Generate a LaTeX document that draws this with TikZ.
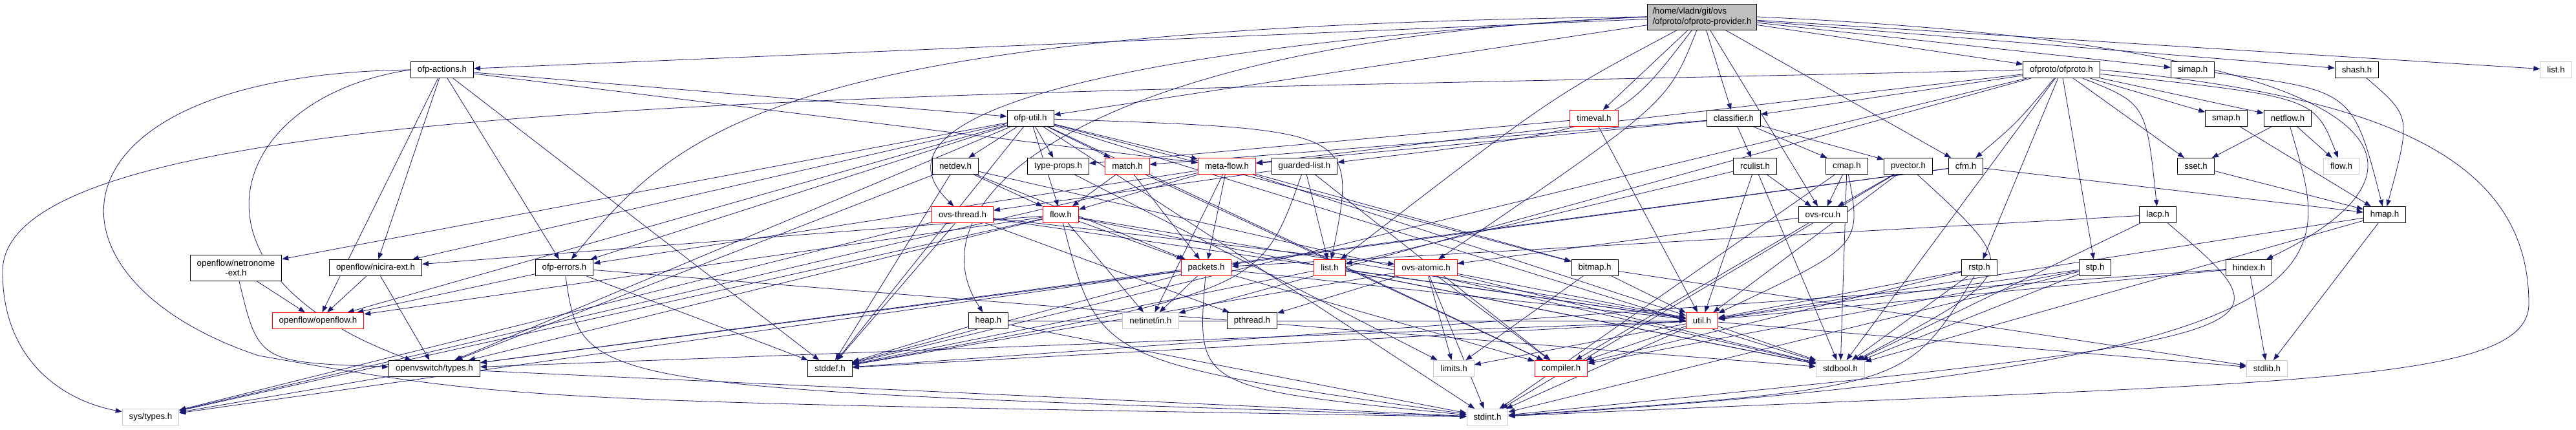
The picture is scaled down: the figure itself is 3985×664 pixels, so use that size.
\documentclass[tikz,border=0pt]{standalone}
\usepackage{fontspec}
\setmainfont{Liberation Sans}
\usetikzlibrary{arrows.meta, backgrounds}
\definecolor{Edgecolor}{RGB}{25,25,112}
\definecolor{Rootgray}{RGB}{191,191,191}
\definecolor{Sysgray}{RGB}{200,200,200}
\newcommand{\hdrfont}{\fontsize{13.3}{15.5}\selectfont}

\begin{document}
\begin{tikzpicture}[x=1pt, y=-1pt,
  hdr/.style={rectangle, draw=black, line width=1pt, fill=white,
    minimum height=25pt, inner xsep=10.5pt, inner ysep=0pt,
    align=center, font=\hdrfont},
  hdrred/.style={hdr, draw=red},
  hdrsys/.style={hdr, draw=Sysgray},
  root/.style={hdr, fill=Rootgray, align=left, minimum height=40pt, inner xsep=8pt},
  dep/.style={-{Triangle[length=10pt, width=7.5pt]}, draw=Edgecolor, line width=0.8pt}
]
\path[use as bounding box] (0,0) rectangle (3985,664);

%% ── Raiz ─────────────────────────────────────────────────────────────
\node[root] (PRV) at (2633, 26) {/home/vladn/git/ovs\\/ofproto/ofproto-provider.h};

%% ── Fila A ───────────────────────────────────────────────────────────
\node[hdr]    (OFA) at (684,  108) {ofp-actions.h};
\node[hdr]    (OFP) at (3189, 108) {ofproto/ofproto.h};
\node[hdr]    (SIM) at (3392, 108) {simap.h};
\node[hdr]    (SHS) at (3646, 108) {shash.h};
\node[hdrsys] (LSG) at (3954, 108) {list.h};

%% ── Fila B ───────────────────────────────────────────────────────────
\node[hdr]    (OFU) at (1594, 183) {ofp-util.h};
\node[hdrred] (TMV) at (2466, 183) {timeval.h};
\node[hdr]    (CLS) at (2682, 183) {classifier.h};
\node[hdr]    (SMP) at (3444, 183) {smap.h};
\node[hdr]    (NFL) at (3539, 183) {netflow.h};

%% ── Fila C ───────────────────────────────────────────────────────────
\node[hdr]    (NDV) at (1478, 257) {netdev.h};
\node[hdr]    (TPR) at (1637, 257) {type-props.h};
\node[hdrred] (MAT) at (1744, 257) {match.h};
\node[hdrred] (MFL) at (1898, 257) {meta-flow.h};
\node[hdr]    (GDL) at (2018, 257) {guarded-list.h};
\node[hdr]    (RCL) at (2715, 257) {rculist.h};
\node[hdr]    (CMP) at (2857, 257) {cmap.h};
\node[hdr]    (PVC) at (2952, 257) {pvector.h};
\node[hdr]    (CFM) at (3041, 257) {cfm.h};
\node[hdr]    (SST) at (3397, 257) {sset.h};
\node[hdrsys] (FLG) at (3622, 257) {flow.h};

%% ── Fila D ───────────────────────────────────────────────────────────
\node[hdrred] (OTH) at (1489, 332) {ovs-thread.h};
\node[hdrred] (FLW) at (1641, 332) {flow.h};
\node[hdr]    (RCU) at (2820, 332) {ovs-rcu.h};
\node[hdr]    (LCP) at (3338, 332) {lacp.h};
\node[hdr]    (HMP) at (3689, 332) {hmap.h};

%% ── Fila E ───────────────────────────────────────────────────────────
\node[hdr, minimum height=40pt] (NTR) at (365, 414) {openflow/netronome\\-ext.h};
\node[hdr]    (NCR) at (581,  414) {openflow/nicira-ext.h};
\node[hdr]    (OFE) at (873,  414) {ofp-errors.h};
\node[hdrred] (PKT) at (1866, 414) {packets.h};
\node[hdrred] (LST) at (2057, 414) {list.h};
\node[hdrred] (ATM) at (2206, 414) {ovs-atomic.h};
\node[hdr]    (BMP) at (2467, 414) {bitmap.h};
\node[hdr]    (RST) at (3062, 414) {rstp.h};
\node[hdr]    (STP) at (3241, 414) {stp.h};
\node[hdr]    (HDX) at (3479, 414) {hindex.h};

%% ── Fila F ───────────────────────────────────────────────────────────
\node[hdrred] (OPF) at (492,  496) {openflow/openflow.h};
\node[hdr]    (HEP) at (1529, 496) {heap.h};
\node[hdrsys] (NIN) at (1780, 496) {netinet/in.h};
\node[hdr]    (PTH) at (1937, 496) {pthread.h};
\node[hdrred] (UTL) at (2633, 496) {util.h};

%% ── Fila G ───────────────────────────────────────────────────────────
\node[hdr]    (OVT) at (672,  570) {openvswitch/types.h};
\node[hdr]    (SDF) at (1284, 570) {stddef.h};
\node[hdrsys] (LIM) at (2249, 570) {limits.h};
\node[hdrred] (CPL) at (2415, 570) {compiler.h};
\node[hdrsys] (SBL) at (2847, 570) {stdbool.h};
\node[hdrsys] (SLB) at (3507, 570) {stdlib.h};

%% ── Fila H ───────────────────────────────────────────────────────────
\node[hdrsys] (STY) at (233,  645) {sys/types.h};
\node[hdrsys] (SIN) at (2301, 645) {stdint.h};

\begin{scope}[on background layer]
%% ── Desde la raiz ────────────────────────────────────────────────────
\draw[dep] (PRV) -- (OFA);
\draw[dep] (PRV.west) .. controls (1200,40) and (1050,200) .. (OFE);
\draw[dep] (PRV) -- (OFU);
\draw[dep] (PRV.west) .. controls (1700,60) and (1400,300) .. (HEP);
\draw[dep] (PRV.west) .. controls (1900,60) and (1300,150) .. (OTH);
\draw[dep] (PRV) .. controls (2500,200) .. (GDL);
\draw[dep] (PRV) -- (TMV);
\draw[dep] (PRV) .. controls (2580,160) .. (ATM);
\draw[dep] (PRV) -- (CLS);
\draw[dep] (PRV) -- (RCU);
\draw[dep] (PRV) -- (CFM);
\draw[dep] (PRV) -- (OFP);
\draw[dep] (PRV) -- (SIM);
\draw[dep] (PRV) -- (SHS);
\draw[dep] (PRV) -- (LSG);
\draw[dep] (PRV.east) .. controls (3700,70) and (3820,250) .. (HDX);
\draw[dep] (PRV) .. controls (2400,150) .. (LST);

%% ── ofp-actions.h ────────────────────────────────────────────────────
\draw[dep] (OFA) -- (OFU);
\draw[dep] (OFA) -- (MFL);
\draw[dep] (OFA) -- (OFE);
\draw[dep] (OFA) -- (NCR);
\draw[dep] (OFA) -- (OPF);
\draw[dep] (OFA.west) .. controls (350,150) and (260,420) .. (OVT);
\draw[dep] (OFA) -- (SDF);
\draw[dep] (OFA.west) .. controls (60,115) and (40,430) .. (400,550) .. controls (800,620) .. (SIN);

%% ── ofp-util.h ───────────────────────────────────────────────────────
\draw[dep] (OFU) -- (NDV);
\draw[dep] (OFU) -- (TPR);
\draw[dep] (OFU) -- (MAT);
\draw[dep] (OFU) -- (MFL);
\draw[dep] (OFU) -- (FLW);
\draw[dep] (OFU) -- (NTR);
\draw[dep] (OFU) -- (NCR);
\draw[dep] (OFU) -- (OPF);
\draw[dep] (OFU) -- (OVT);
\draw[dep] (OFU) .. controls (2100,200) .. (LST);
\draw[dep] (OFU) -- (CPL);
\draw[dep] (OFU) -- (SBL);
\draw[dep] (OFU) -- (SDF);
\draw[dep] (OFU) -- (SIN);
\draw[dep] (OFU) -- (OFE);
\draw[dep] (OFU) -- (BMP);

%% ── Fila C ───────────────────────────────────────────────────────────
\draw[dep] (NDV) -- (FLW);
\draw[dep] (NDV) -- (PKT);
\draw[dep] (NDV) -- (OVT);
\draw[dep] (NDV) -- (SDF);
\draw[dep] (NDV) -- (SBL);
\draw[dep] (TPR) -- (LIM);
\draw[dep] (MAT) -- (FLW);
\draw[dep] (MAT) -- (PKT);
\draw[dep] (MAT) -- (CPL);
\draw[dep] (MFL) -- (FLW);
\draw[dep] (MFL) -- (PKT);
\draw[dep] (MFL) -- (NIN);
\draw[dep] (MFL) -- (STY);
\draw[dep] (MFL) -- (BMP);
\draw[dep] (MFL) -- (UTL);
\draw[dep] (MFL) -- (OFE);
\draw[dep] (GDL) -- (LST);
\draw[dep] (GDL) -- (OTH);
\draw[dep] (GDL) -- (CPL);
\draw[dep] (GDL) .. controls (1950,450) .. (SDF);
\draw[dep] (TMV) -- (UTL);
\draw[dep] (TMV) -- (TPR);
\draw[dep] (CLS) -- (MAT);
\draw[dep] (CLS) -- (MFL);
\draw[dep] (CLS) -- (RCL);
\draw[dep] (CLS) -- (CMP);
\draw[dep] (CLS) -- (PVC);
\draw[dep] (RCL) -- (RCU);
\draw[dep] (RCL) -- (UTL);
\draw[dep] (RCL) -- (SBL);
\draw[dep] (RCL) -- (LST);
\draw[dep] (CMP) -- (RCU);
\draw[dep] (CMP) .. controls (2880,380) .. (UTL);
\draw[dep] (CMP) -- (SBL);
\draw[dep] (CMP) -- (SIN);
\draw[dep] (PVC) -- (RCU);
\draw[dep] (PVC) -- (UTL);
\draw[dep] (PVC) .. controls (3130,420) .. (SBL);
\draw[dep] (PVC) -- (SIN);
\draw[dep] (CFM) -- (HMP);
\draw[dep] (CFM) -- (OVT);
\draw[dep] (CFM) -- (PKT);

%% ── Fila D ───────────────────────────────────────────────────────────
\draw[dep] (OTH) -- (PTH);
\draw[dep] (OTH) -- (SDF);
\draw[dep] (OTH) -- (STY);
\draw[dep] (OTH) -- (ATM);
\draw[dep] (OTH) -- (UTL);
\draw[dep] (FLW) -- (PKT);
\draw[dep] (FLW) -- (NIN);
\draw[dep] (FLW) .. controls (1700,560) .. (SIN);
\draw[dep] (FLW) -- (NCR);
\draw[dep] (FLW) -- (OPF);
\draw[dep] (FLW) -- (UTL);
\draw[dep] (FLW) -- (SBL);
\draw[dep] (FLW) -- (STY);
\draw[dep] (FLW) -- (OVT);
\draw[dep] (RCU) -- (ATM);
\draw[dep] (RCU) -- (CPL);
\draw[dep] (LCP) -- (SBL);
\draw[dep] (LCP) .. controls (3560,520) .. (SIN);
\draw[dep] (LCP) -- (PKT);
\draw[dep] (HMP) -- (SBL);
\draw[dep] (HMP) -- (SLB);
\draw[dep] (HMP) -- (UTL);

%% ── Fila E ───────────────────────────────────────────────────────────
\draw[dep] (NTR) -- (OPF);
\draw[dep] (NTR) .. controls (400,560) .. (OVT);
\draw[dep] (NCR) -- (OPF);
\draw[dep] (NCR) -- (OVT);
\draw[dep] (OFE) -- (OPF);
\draw[dep] (OFE) -- (SDF);
\draw[dep] (OFE) .. controls (900,600) .. (SIN);
\draw[dep] (OFE) -- (SBL);
\draw[dep] (PKT) -- (NIN);
\draw[dep] (PKT) .. controls (1850,600) .. (SIN);
\draw[dep] (PKT) -- (SDF);
\draw[dep] (PKT) -- (CPL);
\draw[dep] (PKT) -- (UTL);
\draw[dep] (PKT) -- (OVT);
\draw[dep] (PKT) -- (STY);
\draw[dep] (LST) -- (SDF);
\draw[dep] (LST) -- (SBL);
\draw[dep] (LST) -- (UTL);
\draw[dep] (ATM) -- (LIM);
\draw[dep] (ATM) -- (PTH);
\draw[dep] (ATM) -- (SIN);
\draw[dep] (ATM) -- (SDF);
\draw[dep] (ATM) -- (SBL);
\draw[dep] (ATM) -- (CPL);
\draw[dep] (ATM) -- (UTL);
\draw[dep] (BMP) -- (LIM);
\draw[dep] (BMP) -- (UTL);
\draw[dep] (BMP) -- (SLB);
\draw[dep] (RST) -- (UTL);
\draw[dep] (RST) -- (SBL);
\draw[dep] (RST) .. controls (2950,600) .. (SIN);
\draw[dep] (RST) -- (CPL);
\draw[dep] (STP) -- (UTL);
\draw[dep] (STP) -- (SBL);
\draw[dep] (STP) -- (SIN);
\draw[dep] (STP) -- (CPL);
\draw[dep] (HDX) -- (SLB);
\draw[dep] (HDX) -- (UTL);
\draw[dep] (HDX) -- (SDF);

%% ── Filas F y G ──────────────────────────────────────────────────────
\draw[dep] (HEP) -- (SDF);
\draw[dep] (HEP) -- (UTL);
\draw[dep] (HEP) -- (SIN);
\draw[dep] (UTL) -- (LIM);
\draw[dep] (UTL) -- (CPL);
\draw[dep] (UTL) -- (SIN);
\draw[dep] (UTL) -- (SBL);
\draw[dep] (UTL) -- (SDF);
\draw[dep] (UTL) -- (SLB);
\draw[dep] (UTL) -- (OVT);
\draw[dep] (OVT) -- (STY);
\draw[dep] (OVT) -- (SIN);

%% ── ofproto/ofproto.h ────────────────────────────────────────────────
\draw[dep] (OFP) -- (CLS);
\draw[dep] (OFP) -- (MFL);
\draw[dep] (OFP) .. controls (3120,190) .. (CFM);
\draw[dep] (OFP) -- (RST);
\draw[dep] (OFP) -- (STP);
\draw[dep] (OFP) .. controls (3320,160) .. (LCP);
\draw[dep] (OFP) -- (SST);
\draw[dep] (OFP) -- (SMP);
\draw[dep] (OFP) -- (NFL);
\draw[dep] (OFP) .. controls (3580,150) .. (FLG);
\draw[dep] (OFP) -- (NIN);
\draw[dep] (OFP.west) .. controls (1400,150) and (4,140) .. (4,420)
  .. controls (4,560) and (100,620) .. (STY);
\draw[dep] (OFP) -- (SBL);
\draw[dep] (OFP) -- (SDF);
\draw[dep] (OFP.east) .. controls (3700,150) and (3912,250) .. (3912,470)
  .. controls (3912,600) and (3500,590) .. (SIN);

%% ── Mapas y conjuntos ────────────────────────────────────────────────
\draw[dep] (SIM) .. controls (3640,140) .. (HMP);
\draw[dep] (SHS) .. controls (3730,180) .. (HMP);
\draw[dep] (SMP) -- (HMP);
\draw[dep] (SST) -- (HMP);
\draw[dep] (NFL) -- (SST);
\draw[dep] (NFL) -- (FLG);
\draw[dep] (NFL) .. controls (3600,400) and (3700,560) .. (SIN);
\end{scope}

\end{tikzpicture}
\end{document}
